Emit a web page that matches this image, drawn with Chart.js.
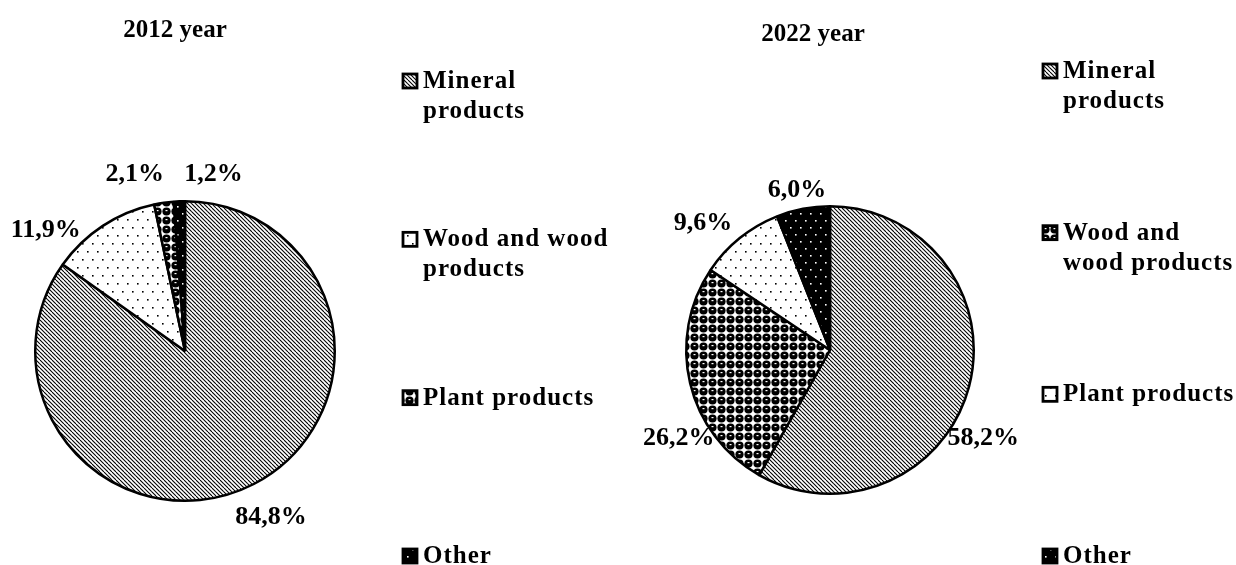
<!DOCTYPE html>
<html>
<head>
<meta charset="utf-8">
<script src="https://cdn.jsdelivr.net/npm/chart.js@4.4.0/dist/chart.umd.min.js"></script>
<style>
  html, body { margin: 0; padding: 0; background: #fff; }
  #wrap { position: relative; width: 1236px; height: 565px; }
  .box { position: absolute; top: 0; width: 618px; height: 565px; }
</style>
</head>
<body>
<div id="wrap">
  <div class="box" style="left:0"><canvas id="c2012"></canvas></div>
  <div class="box" style="left:618px"><canvas id="c2022"></canvas></div>
</div>
<script>
// data
const categories = ["Mineral products", "Wood and wood products", "Plant products", "Other"];
const legend2012 = [["Mineral", "products"], ["Wood and wood", "products"], ["Plant products"], ["Other"]];
const legend2022 = [["Mineral", "products"], ["Wood and", "wood products"], ["Plant products"], ["Other"]];
const values2012 = [84.8, 11.9, 2.1, 1.2];
const values2022 = [58.2, 26.2, 9.6, 6.0];

const FONT = '"Liberation Serif", "Times New Roman", serif';

// fill patterns
function makePattern(w, h, draw) {
  const c = document.createElement("canvas");
  c.width = w; c.height = h;
  const g = c.getContext("2d");
  draw(g, w, h);
  return g.createPattern(c, "repeat");
}
const hatch = makePattern(8, 8, (g, w, h) => {
  g.fillStyle = "#fff"; g.fillRect(0, 0, w, h);
  g.strokeStyle = "#000"; g.lineWidth = 1.1;
  for (let k = -8; k <= 16; k += 4) {
    g.beginPath(); g.moveTo(k, 0); g.lineTo(k + 8, 8); g.stroke();
  }
});
const dots = makePattern(10, 16, (g, w, h) => {
  g.fillStyle = "#fff"; g.fillRect(0, 0, w, h);
  g.fillStyle = "#000";
  g.fillRect(2, 3, 1.6, 1.6);
  g.fillRect(7, 11, 1.6, 1.6);
});
const blackDots = makePattern(10, 14, (g, w, h) => {
  g.fillStyle = "#000"; g.fillRect(0, 0, w, h);
  g.fillStyle = "#fff";
  g.fillRect(2, 3, 1.6, 1.6);
  g.fillRect(7, 10, 1.6, 1.6);
});
const spheres = makePattern(9, 9, (g, w, h) => {
  g.fillStyle = "#fff"; g.fillRect(0, 0, w, h);
  g.fillStyle = "#000";
  g.beginPath(); g.arc(4.5, 4.5, 4.1, 0, Math.PI * 2); g.fill();
  g.fillStyle = "#fff";
  g.fillRect(3.5, 3, 2, 1.2);
});

function pct(v) {
  return v.toFixed(1).replace(".", ",") + "%";
}

const decor = {
  id: "decor",
  afterDraw(chart, args, o) {
    const ctx = chart.ctx;
    const meta = chart.getDatasetMeta(0);
    const ds = chart.data.datasets[0];
    ctx.save();
    ctx.fillStyle = "#000";

    // value labels outside the slices
    ctx.font = "bold 26px " + FONT;
    ctx.textAlign = "center";
    ctx.textBaseline = "middle";
    let cx = 0;
    meta.data.forEach((arc, i) => {
      const p = arc.getProps(["x", "y", "startAngle", "endAngle", "outerRadius"], true);
      cx = p.x;
      const a = (p.startAngle + p.endAngle) / 2;
      const r = p.outerRadius + 22;
      const n = o.nudges[i];
      ctx.fillText(pct(ds.data[i]), p.x + Math.cos(a) * r + n[0], p.y + Math.sin(a) * r + n[1]);
    });

    // title
    ctx.font = "bold 25px " + FONT;
    ctx.textBaseline = "alphabetic";
    ctx.fillText(o.title, cx + o.titleDx, o.titleY);

    // legend, entries spread evenly down the right side
    ctx.textAlign = "left";
    ctx.letterSpacing = "1px";
    const n = o.legend.length;
    const step = (o.legendBottom - o.legendTop) / (n - 1);
    o.legend.forEach((lines, i) => {
      const base = o.legendTop + step * i;
      ctx.fillStyle = ds.backgroundColor[i];
      ctx.fillRect(o.legendX, base - 14, 14, 14);
      ctx.lineWidth = 2.8;
      ctx.strokeStyle = "#000";
      ctx.strokeRect(o.legendX, base - 14, 14, 14);
      ctx.fillStyle = "#000";
      lines.forEach((t, j) => {
        ctx.fillText(t, o.legendX + 20, base + j * 30);
      });
    });
    ctx.restore();
  }
};

function makePie(id, values, fills, padding, opts) {
  return new Chart(document.getElementById(id), {
    type: "pie",
    data: {
      labels: categories,
      datasets: [{
        data: values,
        backgroundColor: fills,
        borderColor: "#000",
        borderWidth: 2.5
      }]
    },
    options: {
      responsive: true,
      maintainAspectRatio: false,
      animation: false,
      events: [],
      layout: { padding: padding },
      plugins: {
        legend: { display: false },
        tooltip: { enabled: false },
        decor: opts
      }
    },
    plugins: [decor]
  });
}

makePie("c2012", values2012, [hatch, dots, spheres, blackDots],
  { left: 34, right: 282, top: 200, bottom: 63 },
  {
    title: "2012 year", titleDx: -10, titleY: 37,
    legend: legend2012, legendX: 403, legendTop: 88, legendBottom: 563,
    nudges: [[7, 14], [-45, 23], [-26, -7], [35, -5]]
  });

makePie("c2022", values2022, [hatch, spheres, dots, blackDots],
  { left: 67, right: 261, top: 205, bottom: 70 },
  {
    title: "2022 year", titleDx: -17, titleY: 41,
    legend: legend2022, legendX: 425, legendTop: 78, legendBottom: 563,
    nudges: [[-7, 46], [10, 50], [-23, 2], [-2, 3]]
  });
</script>
</body>
</html>
